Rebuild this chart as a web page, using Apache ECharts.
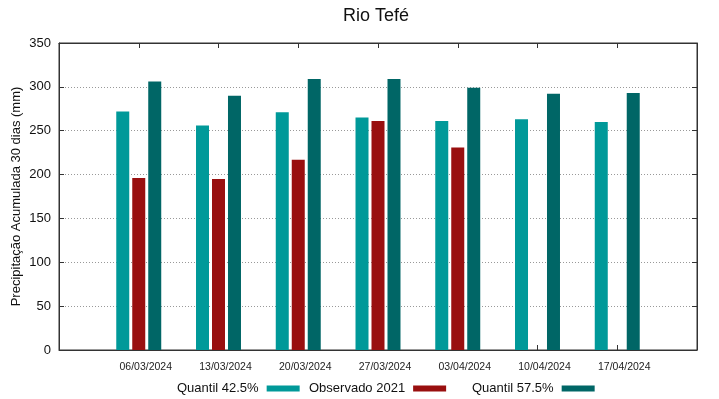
<!DOCTYPE html>
<html>
<head>
<meta charset="utf-8">
<script src="https://cdn.jsdelivr.net/npm/echarts@6/dist/echarts.min.js"></script>
<style>
    html, body { margin: 0; padding: 0; background: #fff; }
    #chart { width: 719px; height: 399px; }
</style>
</head>
<body>
<div id="chart"></div>
<script>
    // datas das semanas
    var dateLabels = ['06/03/2024', '13/03/2024', '20/03/2024', '27/03/2024', '03/04/2024', '10/04/2024', '17/04/2024']
    var quantil425 = [272, 256, 271, 265, 261, 263, 260]
    var observado2021 = [196, 195, 217, 261, 231, null, null]
    var quantil575 = [306, 290, 309, 309, 299, 292, 293]
    var yTicks = [0, 50, 100, 150, 200, 250, 300, 350]

    var seriesNames = ['Quantil 42.5%', 'Observado 2021', 'Quantil 57.5%']
    var seriesColors = ['#009999', '#990f0f', '#006666']
    var seriesValues = [quantil425, observado2021, quantil575]

    var fontName = 'Liberation Sans'
    var myChart = echarts.init(document.getElementById('chart'))

    function toPairs(list) {
        return list.map(function (v, i) {
            return [i, v == null ? '-' : v]
        })
    }

    var seriesData = []
    seriesNames.map(function (name, index) {
        seriesData.push({
            name: name,
            type: 'bar',
            xAxisIndex: 0,
            yAxisIndex: 0,
            data: toPairs(seriesValues[index]),
            barWidth: 13,
            barGap: '23%',
            itemStyle: {
                color: seriesColors[index]
            },
            emphasis: { disabled: true }
        })
    })

    // legenda: texto antes da caixa, como no gnuplot
    var legendLeft = [177, 309, 472]
    var legendList = seriesNames.map(function (name, index) {
        return {
            data: [name],
            left: legendLeft[index],
            top: 382,
            padding: 0,
            align: 'right',
            icon: 'rect',
            itemWidth: 33,
            itemHeight: 6,
            selectedMode: false,
            textStyle: {
                fontFamily: fontName,
                fontSize: 13,
                color: '#111',
                padding: [0, 3, 0, 0]
            }
        }
    })

    var frameLine = { show: true, onZero: false, lineStyle: { color: '#333' } }
    var frameTick = { show: true, inside: true, length: 5, lineStyle: { color: '#333' } }

    var option = {
        animation: false,
        title: {
            text: 'Rio Tefé',
            left: 343,
            top: 7,
            padding: 0,
            textStyle: {
                fontFamily: fontName,
                fontSize: 18,
                fontWeight: 'normal',
                color: '#111'
            }
        },
        legend: legendList,
        grid: {
            left: 59,
            right: 22,
            top: 43,
            bottom: 49,
            containLabel: false,
            outerBoundsMode: 'none',
            show: true,
            borderColor: '#333',
            borderWidth: 1
        },
        xAxis: [
            {
                type: 'value',
                min: -1,
                max: 7,
                interval: 1,
                position: 'bottom',
                axisLine: frameLine,
                axisTick: frameTick,
                splitLine: { show: false },
                axisLabel: {
                    margin: 12,
                    padding: [0, 0, 0, 14],
                    fontFamily: fontName,
                    fontSize: 10.5,
                    color: '#222',
                    formatter: function (v) {
                        return dateLabels[v] || ''
                    }
                }
            },
            {
                type: 'value',
                min: -1,
                max: 7,
                interval: 1,
                position: 'top',
                axisLine: frameLine,
                axisTick: frameTick,
                splitLine: { show: false },
                axisLabel: { show: false }
            }
        ],
        yAxis: [
            {
                type: 'value',
                min: yTicks[0],
                max: yTicks[yTicks.length - 1],
                interval: 50,
                position: 'left',
                name: 'Precipitação Acumulada 30 dias (mm)',
                nameLocation: 'middle',
                nameGap: 36,
                nameMoveOverlap: false,
                nameTextStyle: {
                    fontFamily: fontName,
                    fontSize: 13,
                    color: '#111'
                },
                axisLine: frameLine,
                axisTick: frameTick,
                splitLine: {
                    show: true,
                    lineStyle: { color: '#999', type: [1, 2], width: 1 }
                },
                axisLabel: {
                    margin: 8,
                    fontFamily: fontName,
                    fontSize: 13,
                    color: '#111'
                }
            },
            {
                type: 'value',
                min: yTicks[0],
                max: yTicks[yTicks.length - 1],
                interval: 50,
                position: 'right',
                axisLine: frameLine,
                axisTick: frameTick,
                splitLine: { show: false },
                axisLabel: { show: false }
            }
        ],
        series: seriesData
    }
    myChart.setOption(option)
</script>
</body>
</html>
